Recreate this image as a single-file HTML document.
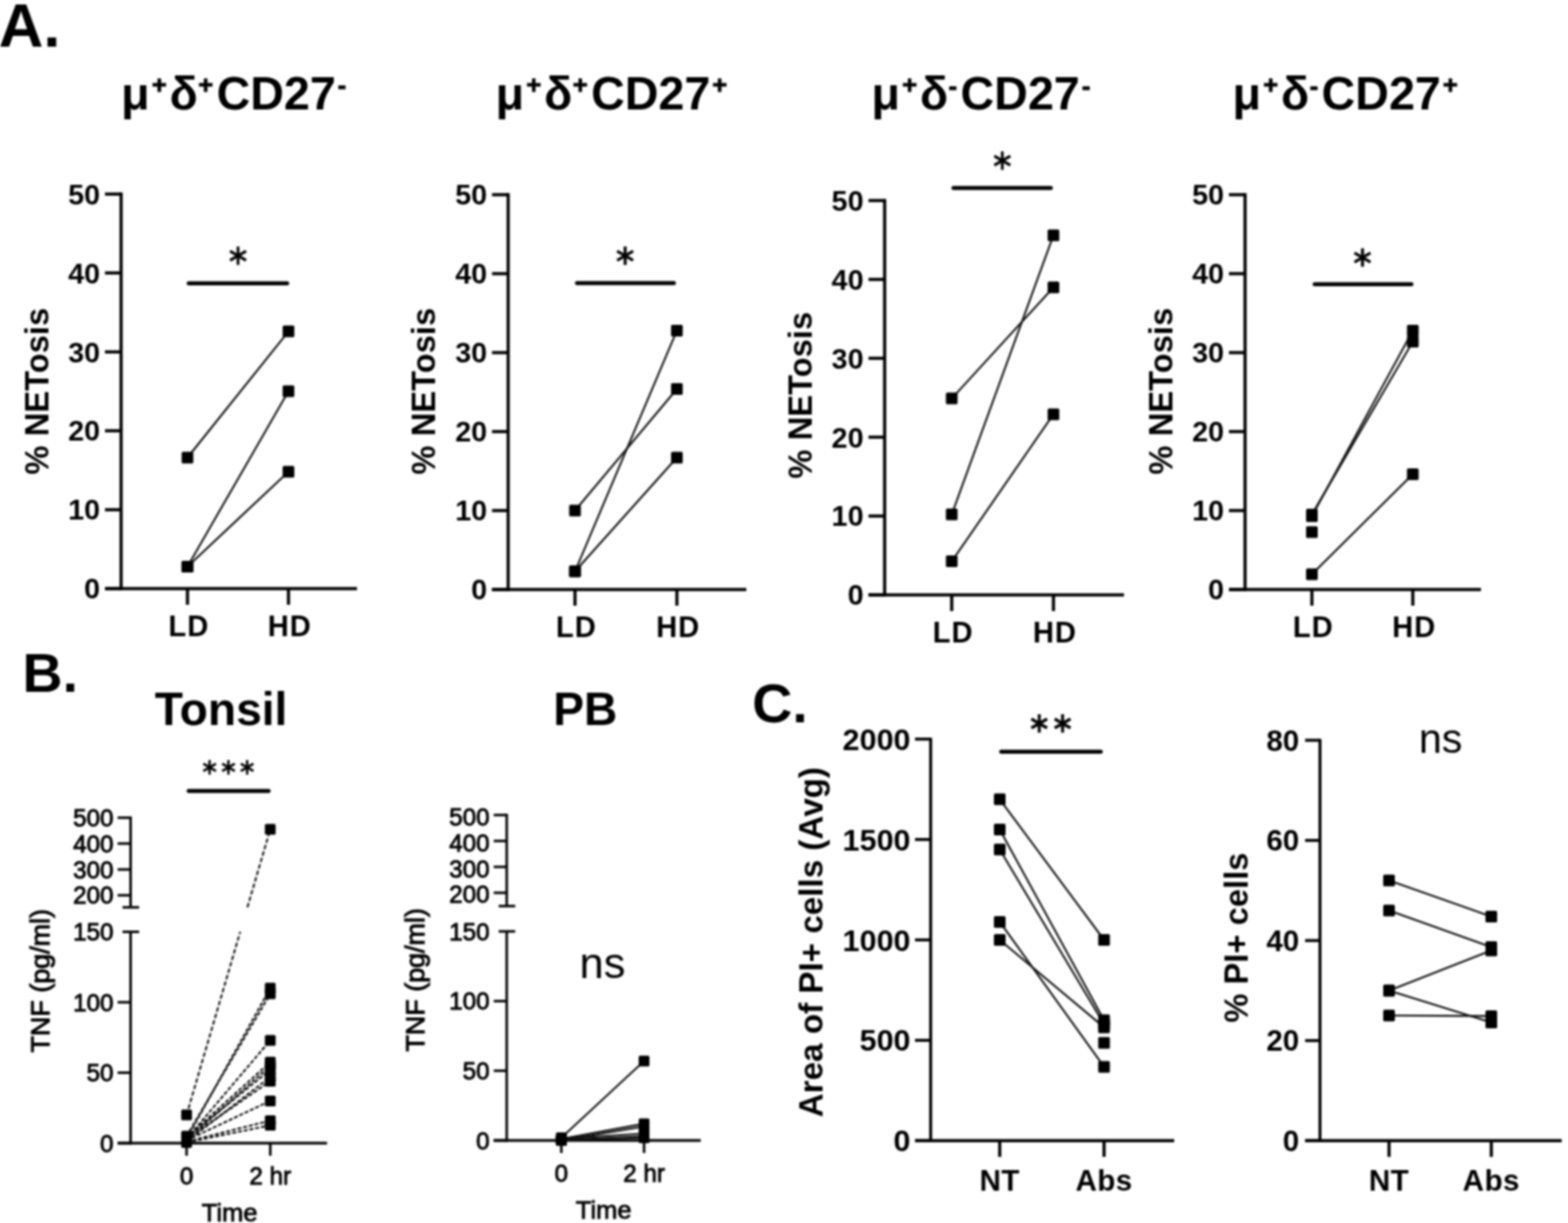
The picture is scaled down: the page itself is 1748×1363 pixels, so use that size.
<!DOCTYPE html>
<html><head><meta charset="utf-8"><title>Figure</title>
<style>html,body{margin:0;padding:0;background:#fff;}svg{display:block;}#fig{filter:blur(0.8px);width:1748px;height:1363px;}</style></head>
<body><div id="fig"><svg width="1748" height="1363" viewBox="0 0 1748 1363">
<rect width="1748" height="1363" fill="#fff"/>
<line x1="135.0" y1="214.6" x2="135.0" y2="657.7" stroke="#000" stroke-width="3.5" stroke-linecap="butt" />
<line x1="117.0" y1="656.0" x2="398.0" y2="656.0" stroke="#000" stroke-width="3.5" stroke-linecap="butt" />
<line x1="117.0" y1="656.0" x2="135.0" y2="656.0" stroke="#000" stroke-width="3.5" stroke-linecap="butt" />
<text x="111.5" y="667.3" font-size="32" font-weight="bold" text-anchor="end" font-family="'Liberation Sans', Arial, Helvetica, sans-serif" >0</text>
<line x1="117.0" y1="568.1" x2="135.0" y2="568.1" stroke="#000" stroke-width="3.5" stroke-linecap="butt" />
<text x="111.5" y="579.4" font-size="32" font-weight="bold" text-anchor="end" font-family="'Liberation Sans', Arial, Helvetica, sans-serif" >10</text>
<line x1="117.0" y1="480.1" x2="135.0" y2="480.1" stroke="#000" stroke-width="3.5" stroke-linecap="butt" />
<text x="111.5" y="491.4" font-size="32" font-weight="bold" text-anchor="end" font-family="'Liberation Sans', Arial, Helvetica, sans-serif" >20</text>
<line x1="117.0" y1="392.2" x2="135.0" y2="392.2" stroke="#000" stroke-width="3.5" stroke-linecap="butt" />
<text x="111.5" y="403.5" font-size="32" font-weight="bold" text-anchor="end" font-family="'Liberation Sans', Arial, Helvetica, sans-serif" >30</text>
<line x1="117.0" y1="304.2" x2="135.0" y2="304.2" stroke="#000" stroke-width="3.5" stroke-linecap="butt" />
<text x="111.5" y="315.6" font-size="32" font-weight="bold" text-anchor="end" font-family="'Liberation Sans', Arial, Helvetica, sans-serif" >40</text>
<line x1="117.0" y1="216.3" x2="135.0" y2="216.3" stroke="#000" stroke-width="3.5" stroke-linecap="butt" />
<text x="111.5" y="227.6" font-size="32" font-weight="bold" text-anchor="end" font-family="'Liberation Sans', Arial, Helvetica, sans-serif" >50</text>
<line x1="209.0" y1="656.0" x2="209.0" y2="674.0" stroke="#000" stroke-width="3.5" stroke-linecap="butt" />
<text x="210.5" y="709.0" font-size="32.5" font-weight="bold" text-anchor="middle" font-family="'Liberation Sans', Arial, Helvetica, sans-serif" letter-spacing="1">LD</text>
<line x1="321.6" y1="656.0" x2="321.6" y2="674.0" stroke="#000" stroke-width="3.5" stroke-linecap="butt" />
<text x="323.1" y="709.0" font-size="32.5" font-weight="bold" text-anchor="middle" font-family="'Liberation Sans', Arial, Helvetica, sans-serif" letter-spacing="1">HD</text>
<line x1="209.0" y1="510.0" x2="321.6" y2="369.3" stroke="#111" stroke-width="2.1" stroke-linecap="butt" />
<line x1="209.0" y1="631.4" x2="321.6" y2="436.1" stroke="#111" stroke-width="2.1" stroke-linecap="butt" />
<line x1="209.0" y1="631.4" x2="321.6" y2="525.8" stroke="#111" stroke-width="2.1" stroke-linecap="butt" />
<rect x="202.5" y="503.5" width="13" height="13" rx="1.5" fill="#000"/>
<rect x="315.1" y="362.8" width="13" height="13" rx="1.5" fill="#000"/>
<rect x="202.5" y="624.9" width="13" height="13" rx="1.5" fill="#000"/>
<rect x="315.1" y="429.6" width="13" height="13" rx="1.5" fill="#000"/>
<rect x="202.5" y="624.9" width="13" height="13" rx="1.5" fill="#000"/>
<rect x="315.1" y="519.3" width="13" height="13" rx="1.5" fill="#000"/>
<line x1="210.3" y1="315.7" x2="320.2" y2="315.7" stroke="#000" stroke-width="4.5" stroke-linecap="round" />
<text x="265.5" y="295.0" font-size="32" font-weight="normal" text-anchor="middle" font-family="'DejaVu Sans', sans-serif" stroke="#000" stroke-width="0.6">&#x2217;</text>
<text transform="translate(53.5,436.0) rotate(-90)" font-size="36.5" font-weight="bold" text-anchor="middle" font-family="'Liberation Sans', Arial, Helvetica, sans-serif" >% NETosis</text>
<line x1="566.5" y1="215.3" x2="566.5" y2="658.7" stroke="#000" stroke-width="3.5" stroke-linecap="butt" />
<line x1="548.5" y1="657.0" x2="832.0" y2="657.0" stroke="#000" stroke-width="3.5" stroke-linecap="butt" />
<line x1="548.5" y1="657.0" x2="566.5" y2="657.0" stroke="#000" stroke-width="3.5" stroke-linecap="butt" />
<text x="543.0" y="668.3" font-size="32" font-weight="bold" text-anchor="end" font-family="'Liberation Sans', Arial, Helvetica, sans-serif" >0</text>
<line x1="548.5" y1="569.0" x2="566.5" y2="569.0" stroke="#000" stroke-width="3.5" stroke-linecap="butt" />
<text x="543.0" y="580.3" font-size="32" font-weight="bold" text-anchor="end" font-family="'Liberation Sans', Arial, Helvetica, sans-serif" >10</text>
<line x1="548.5" y1="481.0" x2="566.5" y2="481.0" stroke="#000" stroke-width="3.5" stroke-linecap="butt" />
<text x="543.0" y="492.3" font-size="32" font-weight="bold" text-anchor="end" font-family="'Liberation Sans', Arial, Helvetica, sans-serif" >20</text>
<line x1="548.5" y1="393.0" x2="566.5" y2="393.0" stroke="#000" stroke-width="3.5" stroke-linecap="butt" />
<text x="543.0" y="404.3" font-size="32" font-weight="bold" text-anchor="end" font-family="'Liberation Sans', Arial, Helvetica, sans-serif" >30</text>
<line x1="548.5" y1="305.0" x2="566.5" y2="305.0" stroke="#000" stroke-width="3.5" stroke-linecap="butt" />
<text x="543.0" y="316.3" font-size="32" font-weight="bold" text-anchor="end" font-family="'Liberation Sans', Arial, Helvetica, sans-serif" >40</text>
<line x1="548.5" y1="217.0" x2="566.5" y2="217.0" stroke="#000" stroke-width="3.5" stroke-linecap="butt" />
<text x="543.0" y="228.3" font-size="32" font-weight="bold" text-anchor="end" font-family="'Liberation Sans', Arial, Helvetica, sans-serif" >50</text>
<line x1="641.0" y1="657.0" x2="641.0" y2="675.0" stroke="#000" stroke-width="3.5" stroke-linecap="butt" />
<text x="642.5" y="710.0" font-size="32.5" font-weight="bold" text-anchor="middle" font-family="'Liberation Sans', Arial, Helvetica, sans-serif" letter-spacing="1">LD</text>
<line x1="754.6" y1="657.0" x2="754.6" y2="675.0" stroke="#000" stroke-width="3.5" stroke-linecap="butt" />
<text x="756.1" y="710.0" font-size="32.5" font-weight="bold" text-anchor="middle" font-family="'Liberation Sans', Arial, Helvetica, sans-serif" letter-spacing="1">HD</text>
<line x1="641.0" y1="569.0" x2="754.6" y2="433.5" stroke="#111" stroke-width="2.1" stroke-linecap="butt" />
<line x1="641.0" y1="636.8" x2="754.6" y2="368.4" stroke="#111" stroke-width="2.1" stroke-linecap="butt" />
<line x1="641.0" y1="636.8" x2="754.6" y2="510.0" stroke="#111" stroke-width="2.1" stroke-linecap="butt" />
<rect x="634.5" y="562.5" width="13" height="13" rx="1.5" fill="#000"/>
<rect x="748.1" y="427.0" width="13" height="13" rx="1.5" fill="#000"/>
<rect x="634.5" y="630.3" width="13" height="13" rx="1.5" fill="#000"/>
<rect x="748.1" y="361.9" width="13" height="13" rx="1.5" fill="#000"/>
<rect x="634.5" y="630.3" width="13" height="13" rx="1.5" fill="#000"/>
<rect x="748.1" y="503.5" width="13" height="13" rx="1.5" fill="#000"/>
<line x1="643.2" y1="315.4" x2="751.3" y2="315.4" stroke="#000" stroke-width="4.5" stroke-linecap="round" />
<text x="697.0" y="295.0" font-size="32" font-weight="normal" text-anchor="middle" font-family="'DejaVu Sans', sans-serif" stroke="#000" stroke-width="0.6">&#x2217;</text>
<text transform="translate(484.5,436.0) rotate(-90)" font-size="36.5" font-weight="bold" text-anchor="middle" font-family="'Liberation Sans', Arial, Helvetica, sans-serif" >% NETosis</text>
<line x1="986.2" y1="221.8" x2="986.2" y2="664.7" stroke="#000" stroke-width="3.5" stroke-linecap="butt" />
<line x1="968.2" y1="663.0" x2="1253.0" y2="663.0" stroke="#000" stroke-width="3.5" stroke-linecap="butt" />
<line x1="968.2" y1="663.0" x2="986.2" y2="663.0" stroke="#000" stroke-width="3.5" stroke-linecap="butt" />
<text x="962.7" y="674.3" font-size="32" font-weight="bold" text-anchor="end" font-family="'Liberation Sans', Arial, Helvetica, sans-serif" >0</text>
<line x1="968.2" y1="575.1" x2="986.2" y2="575.1" stroke="#000" stroke-width="3.5" stroke-linecap="butt" />
<text x="962.7" y="586.4" font-size="32" font-weight="bold" text-anchor="end" font-family="'Liberation Sans', Arial, Helvetica, sans-serif" >10</text>
<line x1="968.2" y1="487.2" x2="986.2" y2="487.2" stroke="#000" stroke-width="3.5" stroke-linecap="butt" />
<text x="962.7" y="498.5" font-size="32" font-weight="bold" text-anchor="end" font-family="'Liberation Sans', Arial, Helvetica, sans-serif" >20</text>
<line x1="968.2" y1="399.3" x2="986.2" y2="399.3" stroke="#000" stroke-width="3.5" stroke-linecap="butt" />
<text x="962.7" y="410.6" font-size="32" font-weight="bold" text-anchor="end" font-family="'Liberation Sans', Arial, Helvetica, sans-serif" >30</text>
<line x1="968.2" y1="311.4" x2="986.2" y2="311.4" stroke="#000" stroke-width="3.5" stroke-linecap="butt" />
<text x="962.7" y="322.7" font-size="32" font-weight="bold" text-anchor="end" font-family="'Liberation Sans', Arial, Helvetica, sans-serif" >40</text>
<line x1="968.2" y1="223.5" x2="986.2" y2="223.5" stroke="#000" stroke-width="3.5" stroke-linecap="butt" />
<text x="962.7" y="234.8" font-size="32" font-weight="bold" text-anchor="end" font-family="'Liberation Sans', Arial, Helvetica, sans-serif" >50</text>
<line x1="1061.0" y1="663.0" x2="1061.0" y2="681.0" stroke="#000" stroke-width="3.5" stroke-linecap="butt" />
<text x="1062.5" y="716.0" font-size="32.5" font-weight="bold" text-anchor="middle" font-family="'Liberation Sans', Arial, Helvetica, sans-serif" letter-spacing="1">LD</text>
<line x1="1174.4" y1="663.0" x2="1174.4" y2="681.0" stroke="#000" stroke-width="3.5" stroke-linecap="butt" />
<text x="1175.9" y="716.0" font-size="32.5" font-weight="bold" text-anchor="middle" font-family="'Liberation Sans', Arial, Helvetica, sans-serif" letter-spacing="1">HD</text>
<line x1="1061.0" y1="444.1" x2="1174.4" y2="320.2" stroke="#111" stroke-width="2.1" stroke-linecap="butt" />
<line x1="1061.0" y1="573.3" x2="1174.4" y2="262.2" stroke="#111" stroke-width="2.1" stroke-linecap="butt" />
<line x1="1061.0" y1="625.6" x2="1174.4" y2="461.7" stroke="#111" stroke-width="2.1" stroke-linecap="butt" />
<rect x="1054.5" y="437.6" width="13" height="13" rx="1.5" fill="#000"/>
<rect x="1167.9" y="313.7" width="13" height="13" rx="1.5" fill="#000"/>
<rect x="1054.5" y="566.8" width="13" height="13" rx="1.5" fill="#000"/>
<rect x="1167.9" y="255.7" width="13" height="13" rx="1.5" fill="#000"/>
<rect x="1054.5" y="619.1" width="13" height="13" rx="1.5" fill="#000"/>
<rect x="1167.9" y="455.2" width="13" height="13" rx="1.5" fill="#000"/>
<line x1="1062.9" y1="209.6" x2="1171.5" y2="209.6" stroke="#000" stroke-width="4.5" stroke-linecap="round" />
<text x="1117.5" y="189.0" font-size="32" font-weight="normal" text-anchor="middle" font-family="'DejaVu Sans', sans-serif" stroke="#000" stroke-width="0.6">&#x2217;</text>
<text transform="translate(904.5,440.5) rotate(-90)" font-size="36.5" font-weight="bold" text-anchor="middle" font-family="'Liberation Sans', Arial, Helvetica, sans-serif" >% NETosis</text>
<line x1="1388.0" y1="215.3" x2="1388.0" y2="658.7" stroke="#000" stroke-width="3.5" stroke-linecap="butt" />
<line x1="1370.0" y1="657.0" x2="1651.0" y2="657.0" stroke="#000" stroke-width="3.5" stroke-linecap="butt" />
<line x1="1370.0" y1="657.0" x2="1388.0" y2="657.0" stroke="#000" stroke-width="3.5" stroke-linecap="butt" />
<text x="1364.5" y="668.3" font-size="32" font-weight="bold" text-anchor="end" font-family="'Liberation Sans', Arial, Helvetica, sans-serif" >0</text>
<line x1="1370.0" y1="569.0" x2="1388.0" y2="569.0" stroke="#000" stroke-width="3.5" stroke-linecap="butt" />
<text x="1364.5" y="580.3" font-size="32" font-weight="bold" text-anchor="end" font-family="'Liberation Sans', Arial, Helvetica, sans-serif" >10</text>
<line x1="1370.0" y1="481.0" x2="1388.0" y2="481.0" stroke="#000" stroke-width="3.5" stroke-linecap="butt" />
<text x="1364.5" y="492.3" font-size="32" font-weight="bold" text-anchor="end" font-family="'Liberation Sans', Arial, Helvetica, sans-serif" >20</text>
<line x1="1370.0" y1="393.0" x2="1388.0" y2="393.0" stroke="#000" stroke-width="3.5" stroke-linecap="butt" />
<text x="1364.5" y="404.3" font-size="32" font-weight="bold" text-anchor="end" font-family="'Liberation Sans', Arial, Helvetica, sans-serif" >30</text>
<line x1="1370.0" y1="305.0" x2="1388.0" y2="305.0" stroke="#000" stroke-width="3.5" stroke-linecap="butt" />
<text x="1364.5" y="316.3" font-size="32" font-weight="bold" text-anchor="end" font-family="'Liberation Sans', Arial, Helvetica, sans-serif" >40</text>
<line x1="1370.0" y1="217.0" x2="1388.0" y2="217.0" stroke="#000" stroke-width="3.5" stroke-linecap="butt" />
<text x="1364.5" y="228.3" font-size="32" font-weight="bold" text-anchor="end" font-family="'Liberation Sans', Arial, Helvetica, sans-serif" >50</text>
<line x1="1462.5" y1="657.0" x2="1462.5" y2="675.0" stroke="#000" stroke-width="3.5" stroke-linecap="butt" />
<text x="1464.0" y="710.0" font-size="32.5" font-weight="bold" text-anchor="middle" font-family="'Liberation Sans', Arial, Helvetica, sans-serif" letter-spacing="1">LD</text>
<line x1="1575.0" y1="657.0" x2="1575.0" y2="675.0" stroke="#000" stroke-width="3.5" stroke-linecap="butt" />
<text x="1576.5" y="710.0" font-size="32.5" font-weight="bold" text-anchor="middle" font-family="'Liberation Sans', Arial, Helvetica, sans-serif" letter-spacing="1">HD</text>
<line x1="1462.5" y1="573.4" x2="1575.0" y2="380.7" stroke="#111" stroke-width="2.1" stroke-linecap="butt" />
<line x1="1462.5" y1="575.2" x2="1575.0" y2="368.4" stroke="#111" stroke-width="2.1" stroke-linecap="butt" />
<line x1="1462.5" y1="640.0" x2="1575.0" y2="528.5" stroke="#111" stroke-width="2.1" stroke-linecap="butt" />
<rect x="1456.0" y="566.9" width="13" height="13" rx="1.5" fill="#000"/>
<rect x="1568.5" y="374.2" width="13" height="13" rx="1.5" fill="#000"/>
<rect x="1456.0" y="568.7" width="13" height="13" rx="1.5" fill="#000"/>
<rect x="1568.5" y="361.9" width="13" height="13" rx="1.5" fill="#000"/>
<rect x="1456.0" y="633.5" width="13" height="13" rx="1.5" fill="#000"/>
<rect x="1568.5" y="522.0" width="13" height="13" rx="1.5" fill="#000"/>
<rect x="1456.0" y="586.5" width="13" height="13" rx="1.5" fill="#000"/>
<line x1="1465.5" y1="316.7" x2="1573.5" y2="316.7" stroke="#000" stroke-width="4.5" stroke-linecap="round" />
<text x="1519.0" y="297.0" font-size="32" font-weight="normal" text-anchor="middle" font-family="'DejaVu Sans', sans-serif" stroke="#000" stroke-width="0.6">&#x2217;</text>
<text transform="translate(1307.0,436.0) rotate(-90)" font-size="36.5" font-weight="bold" text-anchor="middle" font-family="'Liberation Sans', Arial, Helvetica, sans-serif" >% NETosis</text>
<text x="-1.5" y="52.0" font-size="69" font-weight="bold" text-anchor="start" font-family="'Liberation Sans', Arial, Helvetica, sans-serif" >A.</text>
<text x="25.0" y="771.0" font-size="62" font-weight="bold" text-anchor="start" font-family="'Liberation Sans', Arial, Helvetica, sans-serif" >B.</text>
<text x="838.5" y="804.5" font-size="62" font-weight="bold" text-anchor="start" font-family="'Liberation Sans', Arial, Helvetica, sans-serif" >C.</text>
<text font-size="52" font-weight="bold" font-family="'Liberation Sans', Arial, Helvetica, sans-serif"><tspan x="135.0" y="121.5">&#956;</tspan><tspan x="169.3" y="103.5" font-size="28.5" stroke="#000" stroke-width="0.9">+</tspan><tspan x="188.9" y="121.5">&#948;</tspan><tspan x="220.9" y="103.5" font-size="28.5" stroke="#000" stroke-width="0.9">+</tspan><tspan x="241.4" y="121.5">CD27</tspan><tspan x="376.6" y="105.0" font-size="28.5" stroke="#000" stroke-width="0.9">-</tspan></text>
<text font-size="52" font-weight="bold" font-family="'Liberation Sans', Arial, Helvetica, sans-serif"><tspan x="552.5" y="122.3">&#956;</tspan><tspan x="586.8" y="104.3" font-size="28.5" stroke="#000" stroke-width="0.9">+</tspan><tspan x="606.4" y="122.3">&#948;</tspan><tspan x="638.4" y="104.3" font-size="28.5" stroke="#000" stroke-width="0.9">+</tspan><tspan x="658.9" y="122.3">CD27</tspan><tspan x="794.1" y="104.3" font-size="28.5" stroke="#000" stroke-width="0.9">+</tspan></text>
<text font-size="52" font-weight="bold" font-family="'Liberation Sans', Arial, Helvetica, sans-serif"><tspan x="971.5" y="122.3">&#956;</tspan><tspan x="1005.8" y="104.3" font-size="28.5" stroke="#000" stroke-width="0.9">+</tspan><tspan x="1025.4" y="122.3">&#948;</tspan><tspan x="1057.4" y="106.3" font-size="28.5" stroke="#000" stroke-width="0.9">-</tspan><tspan x="1070.8" y="122.3">CD27</tspan><tspan x="1206.0" y="105.8" font-size="28.5" stroke="#000" stroke-width="0.9">-</tspan></text>
<text font-size="52" font-weight="bold" font-family="'Liberation Sans', Arial, Helvetica, sans-serif"><tspan x="1374.0" y="122.3">&#956;</tspan><tspan x="1408.3" y="104.3" font-size="28.5" stroke="#000" stroke-width="0.9">+</tspan><tspan x="1427.9" y="122.3">&#948;</tspan><tspan x="1459.9" y="106.3" font-size="28.5" stroke="#000" stroke-width="0.9">-</tspan><tspan x="1473.3" y="122.3">CD27</tspan><tspan x="1608.5" y="104.3" font-size="28.5" stroke="#000" stroke-width="0.9">+</tspan></text>
<line x1="145.6" y1="909.9" x2="145.6" y2="1011.2" stroke="#000" stroke-width="2.8" stroke-linecap="butt" />
<line x1="145.6" y1="1038.5" x2="145.6" y2="1275.5" stroke="#000" stroke-width="2.8" stroke-linecap="butt" />
<line x1="136.6" y1="1011.2" x2="155.1" y2="1011.2" stroke="#000" stroke-width="2.8" stroke-linecap="butt" />
<line x1="136.6" y1="1038.5" x2="155.1" y2="1038.5" stroke="#000" stroke-width="2.8" stroke-linecap="butt" />
<line x1="131.1" y1="911.3" x2="145.6" y2="911.3" stroke="#000" stroke-width="2.8" stroke-linecap="butt" />
<text x="126.6" y="920.9" font-size="27" font-weight="normal" text-anchor="end" font-family="'Liberation Sans', Arial, Helvetica, sans-serif" stroke="#000" stroke-width="0.9">500</text>
<line x1="131.1" y1="940.1" x2="145.6" y2="940.1" stroke="#000" stroke-width="2.8" stroke-linecap="butt" />
<text x="126.6" y="949.7" font-size="27" font-weight="normal" text-anchor="end" font-family="'Liberation Sans', Arial, Helvetica, sans-serif" stroke="#000" stroke-width="0.9">400</text>
<line x1="131.1" y1="969.0" x2="145.6" y2="969.0" stroke="#000" stroke-width="2.8" stroke-linecap="butt" />
<text x="126.6" y="978.5" font-size="27" font-weight="normal" text-anchor="end" font-family="'Liberation Sans', Arial, Helvetica, sans-serif" stroke="#000" stroke-width="0.9">300</text>
<line x1="131.1" y1="997.8" x2="145.6" y2="997.8" stroke="#000" stroke-width="2.8" stroke-linecap="butt" />
<text x="126.6" y="1007.4" font-size="27" font-weight="normal" text-anchor="end" font-family="'Liberation Sans', Arial, Helvetica, sans-serif" stroke="#000" stroke-width="0.9">200</text>
<text x="126.6" y="1048.1" font-size="27" font-weight="normal" text-anchor="end" font-family="'Liberation Sans', Arial, Helvetica, sans-serif" stroke="#000" stroke-width="0.9">150</text>
<line x1="131.1" y1="1117.0" x2="145.6" y2="1117.0" stroke="#000" stroke-width="2.8" stroke-linecap="butt" />
<text x="126.6" y="1126.6" font-size="27" font-weight="normal" text-anchor="end" font-family="'Liberation Sans', Arial, Helvetica, sans-serif" stroke="#000" stroke-width="0.9">100</text>
<line x1="131.1" y1="1195.5" x2="145.6" y2="1195.5" stroke="#000" stroke-width="2.8" stroke-linecap="butt" />
<text x="126.6" y="1205.1" font-size="27" font-weight="normal" text-anchor="end" font-family="'Liberation Sans', Arial, Helvetica, sans-serif" stroke="#000" stroke-width="0.9">50</text>
<line x1="131.1" y1="1274.0" x2="145.6" y2="1274.0" stroke="#000" stroke-width="2.8" stroke-linecap="butt" />
<text x="126.6" y="1283.6" font-size="27" font-weight="normal" text-anchor="end" font-family="'Liberation Sans', Arial, Helvetica, sans-serif" stroke="#000" stroke-width="0.9">0</text>
<line x1="131.1" y1="1274.0" x2="364.6" y2="1274.0" stroke="#000" stroke-width="3.2" stroke-linecap="butt" />
<line x1="208.0" y1="1274.0" x2="208.0" y2="1288.0" stroke="#000" stroke-width="2.8" stroke-linecap="butt" />
<text x="208.0" y="1319.5" font-size="27" font-weight="normal" text-anchor="middle" font-family="'Liberation Sans', Arial, Helvetica, sans-serif" stroke="#000" stroke-width="0.9">0</text>
<line x1="301.3" y1="1274.0" x2="301.3" y2="1288.0" stroke="#000" stroke-width="2.8" stroke-linecap="butt" />
<text x="301.3" y="1319.5" font-size="27" font-weight="normal" text-anchor="middle" font-family="'Liberation Sans', Arial, Helvetica, sans-serif" stroke="#000" stroke-width="0.9">2 hr</text>
<text x="256.0" y="1360.5" font-size="28.5" font-weight="normal" text-anchor="middle" font-family="'Liberation Sans', Arial, Helvetica, sans-serif" stroke="#000" stroke-width="0.9">Time</text>
<line x1="208.0" y1="1242.6" x2="267.8" y2="1038.5" stroke="#111" stroke-width="2.1" stroke-linecap="butt" stroke-dasharray="5 2.5"/>
<line x1="275.8" y1="1011.2" x2="301.3" y2="924.3" stroke="#111" stroke-width="2.1" stroke-linecap="butt" stroke-dasharray="5 2.5"/>
<line x1="208.0" y1="1269.3" x2="301.3" y2="1101.3" stroke="#111" stroke-width="2.1" stroke-linecap="butt" stroke-dasharray="4.5 2"/>
<line x1="208.0" y1="1266.2" x2="301.3" y2="1107.6" stroke="#111" stroke-width="2.1" stroke-linecap="butt" stroke-dasharray="4.5 2"/>
<line x1="208.0" y1="1269.3" x2="301.3" y2="1159.4" stroke="#111" stroke-width="2.1" stroke-linecap="butt" stroke-dasharray="4.5 2"/>
<line x1="208.0" y1="1267.7" x2="301.3" y2="1183.7" stroke="#111" stroke-width="2.1" stroke-linecap="butt" stroke-dasharray="4.5 2"/>
<line x1="208.0" y1="1270.9" x2="301.3" y2="1187.7" stroke="#111" stroke-width="2.1" stroke-linecap="butt" stroke-dasharray="4.5 2"/>
<line x1="208.0" y1="1267.7" x2="301.3" y2="1192.4" stroke="#111" stroke-width="2.1" stroke-linecap="butt" stroke-dasharray="4.5 2"/>
<line x1="208.0" y1="1272.4" x2="301.3" y2="1200.2" stroke="#111" stroke-width="2.1" stroke-linecap="butt" stroke-dasharray="4.5 2"/>
<line x1="208.0" y1="1269.3" x2="301.3" y2="1204.9" stroke="#111" stroke-width="2.1" stroke-linecap="butt" stroke-dasharray="4.5 2"/>
<line x1="208.0" y1="1270.9" x2="301.3" y2="1226.9" stroke="#111" stroke-width="2.1" stroke-linecap="butt" stroke-dasharray="4.5 2"/>
<line x1="208.0" y1="1272.4" x2="301.3" y2="1248.9" stroke="#111" stroke-width="2.1" stroke-linecap="butt" stroke-dasharray="4.5 2"/>
<line x1="208.0" y1="1273.2" x2="301.3" y2="1254.1" stroke="#111" stroke-width="2.1" stroke-linecap="butt" stroke-dasharray="4.5 2"/>
<rect x="202.0" y="1236.6" width="12" height="12" rx="1.5" fill="#000"/>
<rect x="295.3" y="918.3" width="12" height="12" rx="1.5" fill="#000"/>
<rect x="202.0" y="1263.3" width="12" height="12" rx="1.5" fill="#000"/>
<rect x="295.3" y="1095.3" width="12" height="12" rx="1.5" fill="#000"/>
<rect x="202.0" y="1260.2" width="12" height="12" rx="1.5" fill="#000"/>
<rect x="295.3" y="1101.6" width="12" height="12" rx="1.5" fill="#000"/>
<rect x="202.0" y="1263.3" width="12" height="12" rx="1.5" fill="#000"/>
<rect x="295.3" y="1153.4" width="12" height="12" rx="1.5" fill="#000"/>
<rect x="202.0" y="1261.7" width="12" height="12" rx="1.5" fill="#000"/>
<rect x="295.3" y="1177.7" width="12" height="12" rx="1.5" fill="#000"/>
<rect x="202.0" y="1264.9" width="12" height="12" rx="1.5" fill="#000"/>
<rect x="295.3" y="1181.7" width="12" height="12" rx="1.5" fill="#000"/>
<rect x="202.0" y="1261.7" width="12" height="12" rx="1.5" fill="#000"/>
<rect x="295.3" y="1186.4" width="12" height="12" rx="1.5" fill="#000"/>
<rect x="202.0" y="1266.4" width="12" height="12" rx="1.5" fill="#000"/>
<rect x="295.3" y="1194.2" width="12" height="12" rx="1.5" fill="#000"/>
<rect x="202.0" y="1263.3" width="12" height="12" rx="1.5" fill="#000"/>
<rect x="295.3" y="1198.9" width="12" height="12" rx="1.5" fill="#000"/>
<rect x="202.0" y="1264.9" width="12" height="12" rx="1.5" fill="#000"/>
<rect x="295.3" y="1220.9" width="12" height="12" rx="1.5" fill="#000"/>
<rect x="202.0" y="1266.4" width="12" height="12" rx="1.5" fill="#000"/>
<rect x="295.3" y="1242.9" width="12" height="12" rx="1.5" fill="#000"/>
<rect x="202.0" y="1267.2" width="12" height="12" rx="1.5" fill="#000"/>
<rect x="295.3" y="1248.1" width="12" height="12" rx="1.5" fill="#000"/>
<line x1="210.3" y1="881.5" x2="299.5" y2="881.5" stroke="#000" stroke-width="4.5" stroke-linecap="round" />
<text x="254.9" y="862.8" font-size="25" font-weight="normal" text-anchor="middle" font-family="'DejaVu Sans', sans-serif" stroke="#000" stroke-width="0.6">&#x2217;&#x2217;&#x2217;</text>
<text x="246.5" y="808.0" font-size="51.5" font-weight="bold" text-anchor="middle" font-family="'Liberation Sans', Arial, Helvetica, sans-serif" >Tonsil</text>
<text transform="translate(55.0,1093.0) rotate(-90)" font-size="30" font-weight="normal" text-anchor="middle" font-family="'Liberation Sans', Arial, Helvetica, sans-serif" stroke="#000" stroke-width="1">TNF (pg/ml)</text>
<line x1="564.9" y1="906.9" x2="564.9" y2="1009.8" stroke="#000" stroke-width="2.8" stroke-linecap="butt" />
<line x1="564.9" y1="1038.0" x2="564.9" y2="1272.5" stroke="#000" stroke-width="2.8" stroke-linecap="butt" />
<line x1="555.9" y1="1009.8" x2="574.4" y2="1009.8" stroke="#000" stroke-width="2.8" stroke-linecap="butt" />
<line x1="555.9" y1="1038.0" x2="574.4" y2="1038.0" stroke="#000" stroke-width="2.8" stroke-linecap="butt" />
<line x1="550.4" y1="908.3" x2="564.9" y2="908.3" stroke="#000" stroke-width="2.8" stroke-linecap="butt" />
<text x="545.9" y="919.7" font-size="27" font-weight="normal" text-anchor="end" font-family="'Liberation Sans', Arial, Helvetica, sans-serif" stroke="#000" stroke-width="0.9">500</text>
<line x1="550.4" y1="937.2" x2="564.9" y2="937.2" stroke="#000" stroke-width="2.8" stroke-linecap="butt" />
<text x="545.9" y="948.6" font-size="27" font-weight="normal" text-anchor="end" font-family="'Liberation Sans', Arial, Helvetica, sans-serif" stroke="#000" stroke-width="0.9">400</text>
<line x1="550.4" y1="966.1" x2="564.9" y2="966.1" stroke="#000" stroke-width="2.8" stroke-linecap="butt" />
<text x="545.9" y="977.5" font-size="27" font-weight="normal" text-anchor="end" font-family="'Liberation Sans', Arial, Helvetica, sans-serif" stroke="#000" stroke-width="0.9">300</text>
<line x1="550.4" y1="995.0" x2="564.9" y2="995.0" stroke="#000" stroke-width="2.8" stroke-linecap="butt" />
<text x="545.9" y="1006.4" font-size="27" font-weight="normal" text-anchor="end" font-family="'Liberation Sans', Arial, Helvetica, sans-serif" stroke="#000" stroke-width="0.9">200</text>
<text x="545.9" y="1047.6" font-size="27" font-weight="normal" text-anchor="end" font-family="'Liberation Sans', Arial, Helvetica, sans-serif" stroke="#000" stroke-width="0.9">150</text>
<line x1="550.4" y1="1115.7" x2="564.9" y2="1115.7" stroke="#000" stroke-width="2.8" stroke-linecap="butt" />
<text x="545.9" y="1125.2" font-size="27" font-weight="normal" text-anchor="end" font-family="'Liberation Sans', Arial, Helvetica, sans-serif" stroke="#000" stroke-width="0.9">100</text>
<line x1="550.4" y1="1193.3" x2="564.9" y2="1193.3" stroke="#000" stroke-width="2.8" stroke-linecap="butt" />
<text x="545.9" y="1202.9" font-size="27" font-weight="normal" text-anchor="end" font-family="'Liberation Sans', Arial, Helvetica, sans-serif" stroke="#000" stroke-width="0.9">50</text>
<line x1="550.4" y1="1271.0" x2="564.9" y2="1271.0" stroke="#000" stroke-width="2.8" stroke-linecap="butt" />
<text x="545.9" y="1280.6" font-size="27" font-weight="normal" text-anchor="end" font-family="'Liberation Sans', Arial, Helvetica, sans-serif" stroke="#000" stroke-width="0.9">0</text>
<line x1="550.4" y1="1271.0" x2="781.2" y2="1271.0" stroke="#000" stroke-width="3.2" stroke-linecap="butt" />
<line x1="625.8" y1="1271.0" x2="625.8" y2="1285.0" stroke="#000" stroke-width="2.8" stroke-linecap="butt" />
<text x="625.8" y="1316.5" font-size="27" font-weight="normal" text-anchor="middle" font-family="'Liberation Sans', Arial, Helvetica, sans-serif" stroke="#000" stroke-width="0.9">0</text>
<line x1="718.0" y1="1271.0" x2="718.0" y2="1285.0" stroke="#000" stroke-width="2.8" stroke-linecap="butt" />
<text x="718.0" y="1316.5" font-size="27" font-weight="normal" text-anchor="middle" font-family="'Liberation Sans', Arial, Helvetica, sans-serif" stroke="#000" stroke-width="0.9">2 hr</text>
<text x="673.0" y="1357.5" font-size="28.5" font-weight="normal" text-anchor="middle" font-family="'Liberation Sans', Arial, Helvetica, sans-serif" stroke="#000" stroke-width="0.9">Time</text>
<line x1="625.8" y1="1267.9" x2="718.0" y2="1182.5" stroke="#111" stroke-width="2.1" stroke-linecap="butt" />
<line x1="625.8" y1="1269.4" x2="718.0" y2="1252.4" stroke="#111" stroke-width="2.1" stroke-linecap="butt" />
<line x1="625.8" y1="1271.0" x2="718.0" y2="1255.5" stroke="#111" stroke-width="2.1" stroke-linecap="butt" />
<line x1="625.8" y1="1269.4" x2="718.0" y2="1263.2" stroke="#111" stroke-width="2.1" stroke-linecap="butt" />
<line x1="625.8" y1="1271.0" x2="718.0" y2="1266.3" stroke="#111" stroke-width="2.1" stroke-linecap="butt" />
<line x1="625.8" y1="1270.2" x2="718.0" y2="1267.9" stroke="#111" stroke-width="2.1" stroke-linecap="butt" />
<rect x="619.8" y="1261.9" width="12" height="12" rx="1.5" fill="#000"/>
<rect x="712.0" y="1176.5" width="12" height="12" rx="1.5" fill="#000"/>
<rect x="619.8" y="1263.4" width="12" height="12" rx="1.5" fill="#000"/>
<rect x="712.0" y="1246.4" width="12" height="12" rx="1.5" fill="#000"/>
<rect x="619.8" y="1265.0" width="12" height="12" rx="1.5" fill="#000"/>
<rect x="712.0" y="1249.5" width="12" height="12" rx="1.5" fill="#000"/>
<rect x="619.8" y="1263.4" width="12" height="12" rx="1.5" fill="#000"/>
<rect x="712.0" y="1257.2" width="12" height="12" rx="1.5" fill="#000"/>
<rect x="619.8" y="1265.0" width="12" height="12" rx="1.5" fill="#000"/>
<rect x="712.0" y="1260.3" width="12" height="12" rx="1.5" fill="#000"/>
<rect x="619.8" y="1264.2" width="12" height="12" rx="1.5" fill="#000"/>
<rect x="712.0" y="1261.9" width="12" height="12" rx="1.5" fill="#000"/>
<text x="671.6" y="1090.0" font-size="48.5" font-weight="normal" text-anchor="middle" font-family="'Liberation Sans', Arial, Helvetica, sans-serif" >ns</text>
<text x="652.5" y="808.0" font-size="51.5" font-weight="bold" text-anchor="middle" font-family="'Liberation Sans', Arial, Helvetica, sans-serif" >PB</text>
<text transform="translate(473.0,1092.0) rotate(-90)" font-size="30" font-weight="normal" text-anchor="middle" font-family="'Liberation Sans', Arial, Helvetica, sans-serif" stroke="#000" stroke-width="1">TNF (pg/ml)</text>
<line x1="1037.5" y1="822.2" x2="1037.5" y2="1272.8" stroke="#000" stroke-width="3.3" stroke-linecap="butt" />
<line x1="1020.0" y1="1271.3" x2="1309.0" y2="1271.3" stroke="#000" stroke-width="3.5" stroke-linecap="butt" />
<line x1="1020.0" y1="1271.3" x2="1037.5" y2="1271.3" stroke="#000" stroke-width="3.3" stroke-linecap="butt" />
<text x="1015.0" y="1283.3" font-size="34" font-weight="bold" text-anchor="end" font-family="'Liberation Sans', Arial, Helvetica, sans-serif" >0</text>
<line x1="1020.0" y1="1159.4" x2="1037.5" y2="1159.4" stroke="#000" stroke-width="3.3" stroke-linecap="butt" />
<text x="1015.0" y="1171.4" font-size="34" font-weight="bold" text-anchor="end" font-family="'Liberation Sans', Arial, Helvetica, sans-serif" >500</text>
<line x1="1020.0" y1="1047.5" x2="1037.5" y2="1047.5" stroke="#000" stroke-width="3.3" stroke-linecap="butt" />
<text x="1015.0" y="1059.5" font-size="34" font-weight="bold" text-anchor="end" font-family="'Liberation Sans', Arial, Helvetica, sans-serif" >1000</text>
<line x1="1020.0" y1="935.6" x2="1037.5" y2="935.6" stroke="#000" stroke-width="3.3" stroke-linecap="butt" />
<text x="1015.0" y="947.6" font-size="34" font-weight="bold" text-anchor="end" font-family="'Liberation Sans', Arial, Helvetica, sans-serif" >1500</text>
<line x1="1020.0" y1="823.7" x2="1037.5" y2="823.7" stroke="#000" stroke-width="3.3" stroke-linecap="butt" />
<text x="1015.0" y="835.7" font-size="34" font-weight="bold" text-anchor="end" font-family="'Liberation Sans', Arial, Helvetica, sans-serif" >2000</text>
<line x1="1114.5" y1="1271.3" x2="1114.5" y2="1289.3" stroke="#000" stroke-width="3.5" stroke-linecap="butt" />
<text x="1114.5" y="1327.3" font-size="33" font-weight="bold" text-anchor="middle" font-family="'Liberation Sans', Arial, Helvetica, sans-serif" letter-spacing="0.5">NT</text>
<line x1="1230.8" y1="1271.3" x2="1230.8" y2="1289.3" stroke="#000" stroke-width="3.5" stroke-linecap="butt" />
<text x="1230.8" y="1327.3" font-size="33" font-weight="bold" text-anchor="middle" font-family="'Liberation Sans', Arial, Helvetica, sans-serif" letter-spacing="0.5">Abs</text>
<line x1="1114.5" y1="890.8" x2="1230.8" y2="1047.5" stroke="#111" stroke-width="2.1" stroke-linecap="butt" />
<line x1="1114.5" y1="924.4" x2="1230.8" y2="1137.0" stroke="#111" stroke-width="2.1" stroke-linecap="butt" />
<line x1="1114.5" y1="946.8" x2="1230.8" y2="1141.5" stroke="#111" stroke-width="2.1" stroke-linecap="butt" />
<line x1="1114.5" y1="1027.4" x2="1230.8" y2="1188.9" stroke="#111" stroke-width="2.1" stroke-linecap="butt" />
<line x1="1114.5" y1="1047.5" x2="1230.8" y2="1144.9" stroke="#111" stroke-width="2.1" stroke-linecap="butt" />
<rect x="1108.0" y="884.3" width="13" height="13" rx="1.5" fill="#000"/>
<rect x="1224.3" y="1041.0" width="13" height="13" rx="1.5" fill="#000"/>
<rect x="1108.0" y="917.9" width="13" height="13" rx="1.5" fill="#000"/>
<rect x="1224.3" y="1130.5" width="13" height="13" rx="1.5" fill="#000"/>
<rect x="1108.0" y="940.3" width="13" height="13" rx="1.5" fill="#000"/>
<rect x="1224.3" y="1135.0" width="13" height="13" rx="1.5" fill="#000"/>
<rect x="1108.0" y="1020.9" width="13" height="13" rx="1.5" fill="#000"/>
<rect x="1224.3" y="1182.4" width="13" height="13" rx="1.5" fill="#000"/>
<rect x="1108.0" y="1041.0" width="13" height="13" rx="1.5" fill="#000"/>
<rect x="1224.3" y="1138.4" width="13" height="13" rx="1.5" fill="#000"/>
<rect x="1224.3" y="1155.8" width="13" height="13" rx="1.5" fill="#000"/>
<line x1="1116.1" y1="837.8" x2="1227.2" y2="837.8" stroke="#000" stroke-width="4.5" stroke-linecap="round" />
<text x="1171.7" y="816.2" font-size="31" font-weight="normal" text-anchor="middle" font-family="'DejaVu Sans', sans-serif" stroke="#000" stroke-width="0.9">&#x2217;&#x2217;</text>
<text transform="translate(917.0,1050.0) rotate(-90)" font-size="37" font-weight="bold" text-anchor="middle" font-family="'Liberation Sans', Arial, Helvetica, sans-serif" >Area of PI+ cells (Avg)</text>
<line x1="1471.5" y1="823.5" x2="1471.5" y2="1272.8" stroke="#000" stroke-width="3.3" stroke-linecap="butt" />
<line x1="1454.9" y1="1271.3" x2="1741.0" y2="1271.3" stroke="#000" stroke-width="3.5" stroke-linecap="butt" />
<line x1="1454.9" y1="1271.3" x2="1471.5" y2="1271.3" stroke="#000" stroke-width="3.3" stroke-linecap="butt" />
<text x="1448.4" y="1283.0" font-size="33" font-weight="bold" text-anchor="end" font-family="'Liberation Sans', Arial, Helvetica, sans-serif" >0</text>
<line x1="1454.9" y1="1159.7" x2="1471.5" y2="1159.7" stroke="#000" stroke-width="3.3" stroke-linecap="butt" />
<text x="1448.4" y="1171.4" font-size="33" font-weight="bold" text-anchor="end" font-family="'Liberation Sans', Arial, Helvetica, sans-serif" >20</text>
<line x1="1454.9" y1="1048.2" x2="1471.5" y2="1048.2" stroke="#000" stroke-width="3.3" stroke-linecap="butt" />
<text x="1448.4" y="1059.8" font-size="33" font-weight="bold" text-anchor="end" font-family="'Liberation Sans', Arial, Helvetica, sans-serif" >40</text>
<line x1="1454.9" y1="936.6" x2="1471.5" y2="936.6" stroke="#000" stroke-width="3.3" stroke-linecap="butt" />
<text x="1448.4" y="948.3" font-size="33" font-weight="bold" text-anchor="end" font-family="'Liberation Sans', Arial, Helvetica, sans-serif" >60</text>
<line x1="1454.9" y1="825.0" x2="1471.5" y2="825.0" stroke="#000" stroke-width="3.3" stroke-linecap="butt" />
<text x="1448.4" y="836.7" font-size="33" font-weight="bold" text-anchor="end" font-family="'Liberation Sans', Arial, Helvetica, sans-serif" >80</text>
<line x1="1548.5" y1="1271.3" x2="1548.5" y2="1289.3" stroke="#000" stroke-width="3.5" stroke-linecap="butt" />
<text x="1548.5" y="1327.3" font-size="33" font-weight="bold" text-anchor="middle" font-family="'Liberation Sans', Arial, Helvetica, sans-serif" letter-spacing="0.5">NT</text>
<line x1="1662.5" y1="1271.3" x2="1662.5" y2="1289.3" stroke="#000" stroke-width="3.5" stroke-linecap="butt" />
<text x="1662.5" y="1327.3" font-size="33" font-weight="bold" text-anchor="middle" font-family="'Liberation Sans', Arial, Helvetica, sans-serif" letter-spacing="0.5">Abs</text>
<line x1="1548.5" y1="981.2" x2="1662.5" y2="1021.4" stroke="#111" stroke-width="2.1" stroke-linecap="butt" />
<line x1="1548.5" y1="1014.7" x2="1662.5" y2="1055.4" stroke="#111" stroke-width="2.1" stroke-linecap="butt" />
<line x1="1548.5" y1="1103.9" x2="1662.5" y2="1059.3" stroke="#111" stroke-width="2.1" stroke-linecap="butt" />
<line x1="1548.5" y1="1103.9" x2="1662.5" y2="1139.6" stroke="#111" stroke-width="2.1" stroke-linecap="butt" />
<line x1="1548.5" y1="1131.8" x2="1662.5" y2="1132.4" stroke="#111" stroke-width="2.1" stroke-linecap="butt" />
<rect x="1542.0" y="974.7" width="13" height="13" rx="1.5" fill="#000"/>
<rect x="1656.0" y="1014.9" width="13" height="13" rx="1.5" fill="#000"/>
<rect x="1542.0" y="1008.2" width="13" height="13" rx="1.5" fill="#000"/>
<rect x="1656.0" y="1048.9" width="13" height="13" rx="1.5" fill="#000"/>
<rect x="1542.0" y="1097.4" width="13" height="13" rx="1.5" fill="#000"/>
<rect x="1656.0" y="1052.8" width="13" height="13" rx="1.5" fill="#000"/>
<rect x="1542.0" y="1097.4" width="13" height="13" rx="1.5" fill="#000"/>
<rect x="1656.0" y="1133.1" width="13" height="13" rx="1.5" fill="#000"/>
<rect x="1542.0" y="1125.3" width="13" height="13" rx="1.5" fill="#000"/>
<rect x="1656.0" y="1125.9" width="13" height="13" rx="1.5" fill="#000"/>
<text x="1606.0" y="839.3" font-size="46" font-weight="normal" text-anchor="middle" font-family="'Liberation Sans', Arial, Helvetica, sans-serif" >ns</text>
<text transform="translate(1391.0,1045.0) rotate(-90)" font-size="36.5" font-weight="bold" text-anchor="middle" font-family="'Liberation Sans', Arial, Helvetica, sans-serif" >% PI+ cells</text>
</svg></div></body></html>
